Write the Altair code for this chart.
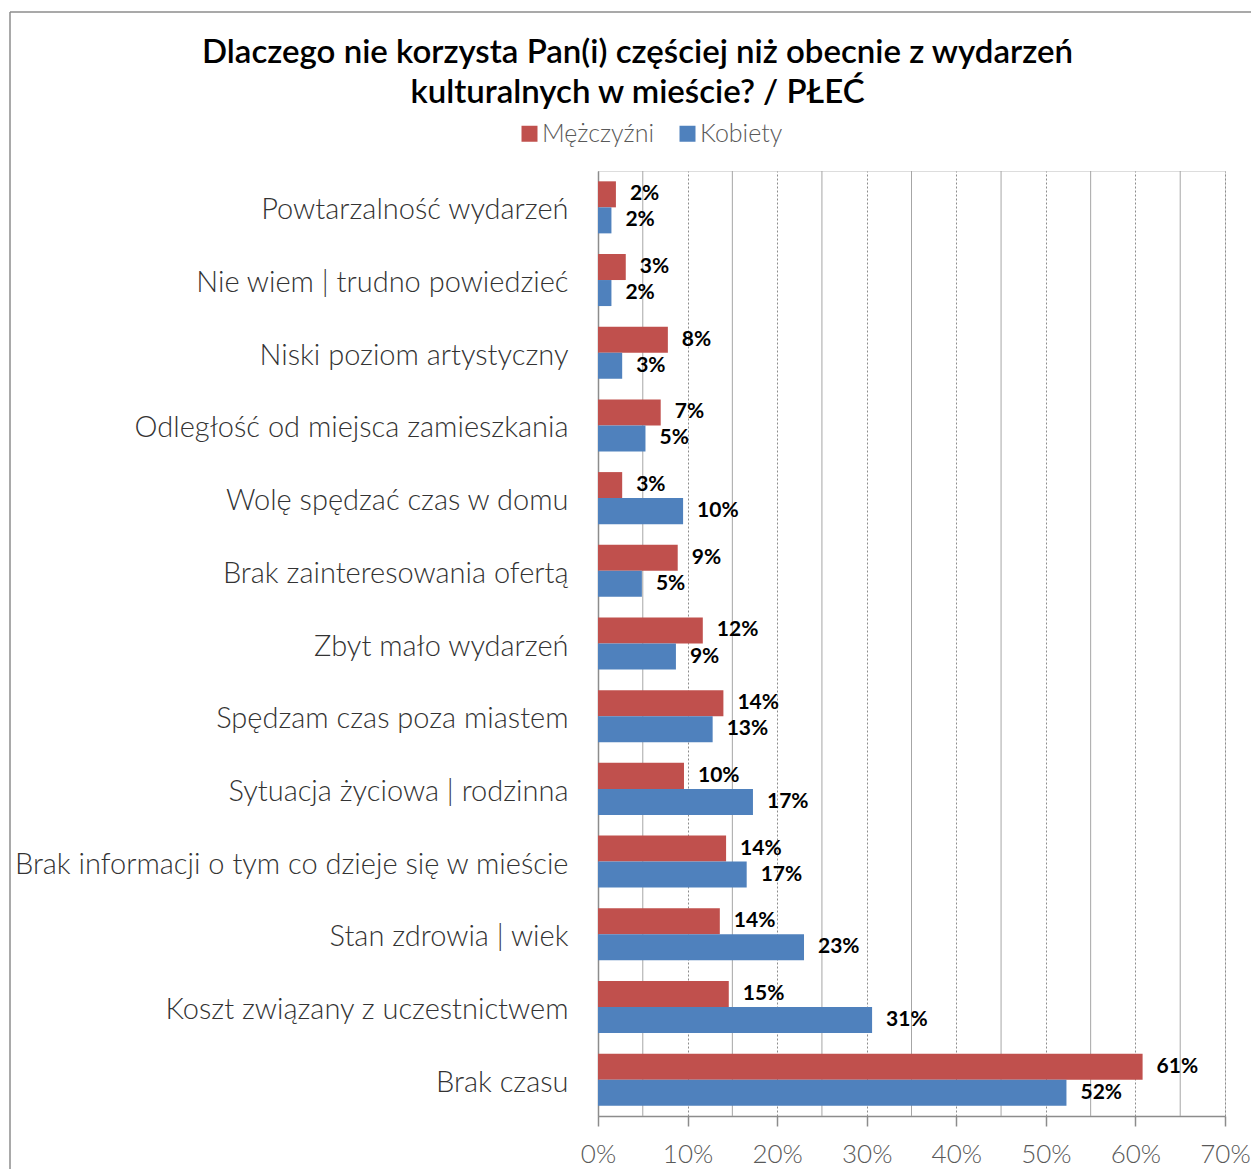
import altair as alt
import pandas as pd

categories = [
    "Powtarzalność wydarzeń",
    "Nie wiem | trudno powiedzieć",
    "Niski poziom artystyczny",
    "Odległość od miejsca zamieszkania",
    "Wolę spędzać czas w domu",
    "Brak zainteresowania ofertą",
    "Zbyt mało wydarzeń",
    "Spędzam czas poza miastem",
    "Sytuacja życiowa | rodzinna",
    "Brak informacji o tym co dzieje się w mieście",
    "Stan zdrowia | wiek",
    "Koszt związany z uczestnictwem",
    "Brak czasu",
]
series_names = ["Mężczyźni", "Kobiety"]
men = [2.0, 3.1, 7.8, 7.0, 2.7, 8.9, 11.7, 14.0, 9.6, 14.3, 13.6, 14.6, 60.8]
women = [1.5, 1.5, 2.7, 5.3, 9.5, 4.9, 8.7, 12.8, 17.3, 16.6, 23.0, 30.6, 52.3]
men_labels = ["2%", "3%", "8%", "7%", "3%", "9%", "12%", "14%", "10%", "14%", "14%", "15%", "61%"]
women_labels = ["2%", "2%", "3%", "5%", "10%", "5%", "9%", "13%", "17%", "17%", "23%", "31%", "52%"]
major_ticks = [0, 10, 20, 30, 40, 50, 60, 70]
minor_grid = [5, 15, 25, 35, 45, 55, 65]
colors = ["#C0504D", "#4F81BD"]

rows = []
for i, c in enumerate(categories):
    rows.append({"category": c, "series": series_names[0], "value": men[i], "label": men_labels[i]})
    rows.append({"category": c, "series": series_names[1], "value": women[i], "label": women_labels[i]})
df = pd.DataFrame(rows)
grid_df = pd.DataFrame({"g": minor_grid})
one = pd.DataFrame({"a": [0]})

W, H = 627, 945
FONT = "Lato"

x_enc = alt.X(
    "value:Q",
    scale=alt.Scale(domain=[0, 70], nice=False),
    axis=alt.Axis(
        values=major_ticks,
        labelExpr="datum.value + '%'",
        title=None,
        grid=True,
        gridDash=[2, 2],
        gridColor="#8c8c8c",
        gridWidth=1,
        domainColor="#8c8c8c",
        domainWidth=1.5,
        tickColor="#8c8c8c",
        tickSize=10,
        tickWidth=1.5,
        labelFont=FONT,
        labelFontWeight=300,
        labelFontSize=26,
        labelColor="#595959",
        labelPadding=15,
        labelFlush=False,
    ),
)
y_enc = alt.Y(
    "category:N",
    sort=categories,
    scale=alt.Scale(paddingInner=0.284, paddingOuter=0.142),
    axis=alt.Axis(
        title=None,
        ticks=False,
        domainColor="#8c8c8c",
        domainWidth=1.5,
        labelFont=FONT,
        labelFontWeight=300,
        labelFontSize=29,
        labelColor="#333333",
        labelPadding=30,
        labelOffset=3,
        labelLimit=700,
    ),
)
yoff = alt.YOffset("series:N", sort=series_names, scale=alt.Scale(paddingInner=0, paddingOuter=0))

minor = alt.Chart(grid_df).mark_rule(color="#a6a6a6", strokeWidth=1).encode(
    x=alt.X("g:Q"), y=alt.value(0), y2=alt.value(H)
)

bars = alt.Chart(df).mark_bar().encode(
    x=x_enc,
    y=y_enc,
    yOffset=yoff,
    color=alt.Color(
        "series:N",
        sort=series_names,
        scale=alt.Scale(domain=series_names, range=colors),
        legend=alt.Legend(
            title=None,
            orient="none",
            legendX=-81,
            legendY=-50,
            direction="horizontal",
            symbolType="square",
            symbolSize=256,
            symbolStrokeWidth=0,
            labelFont=FONT,
            labelFontWeight=300,
            labelFontSize=25,
            labelColor="#595959",
            labelOffset=0,
            columnPadding=20,
            padding=0,
        ),
    ),
)

labels = alt.Chart(df).mark_text(
    align="left", baseline="middle", dx=14, font=FONT, fontWeight="bold", fontSize=21, color="#000000"
).encode(
    x=alt.X("value:Q"),
    y=alt.Y("category:N", sort=categories),
    yOffset=yoff,
    text="label:N",
)

border_left = alt.Chart(one).mark_rule(color="#8c8c8c", strokeWidth=1.5).encode(
    x=alt.value(-588), y=alt.value(-159), y2=alt.value(H + 200)
)
border_top = alt.Chart(one).mark_rule(color="#8c8c8c", strokeWidth=1.5).encode(
    x=alt.value(-588), x2=alt.value(W + 100), y=alt.value(-159)
)

chart = alt.layer(minor, bars, labels, border_left, border_top).properties(
    width=W,
    height=H,
    autosize=alt.AutoSizeParams(type="none"),
    padding={"left": 590, "top": 163, "right": 26, "bottom": 53},
    title=alt.TitleParams(
        text=[
            "Dlaczego nie korzysta Pan(i) częściej niż obecnie z wydarzeń",
            "kulturalnych w mieście?  / PŁEĆ",
        ],
        font=FONT,
        fontSize=33,
        fontWeight=600,
        color="#000000",
        anchor="middle",
        frame="group",
        dx=-274,
        offset=-99,
        lineHeight=40,
    ),
).configure_view(stroke=None).configure(background="white")

chart.save("out.html", embed_options={"renderer": "svg", "actions": False})
